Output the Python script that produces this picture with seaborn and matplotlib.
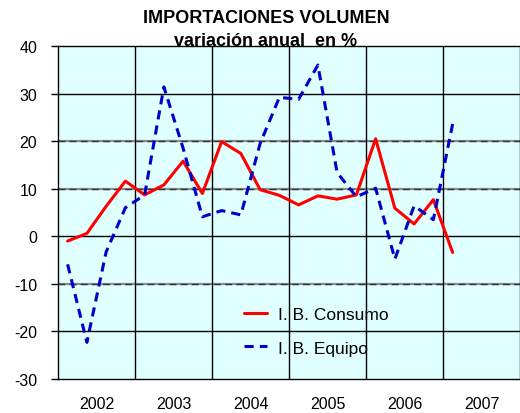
import numpy as np
import pandas as pd
import seaborn as sns
import matplotlib
matplotlib.use("Agg")
import matplotlib.pyplot as plt

# Quarterly data, 2002 Q1 .. 2007 Q1
years = ["2002", "2003", "2004", "2005", "2006", "2007"]
consumo = [-1.0, 0.6, 6.3, 11.6, 8.7, 10.8, 15.8, 9.0, 19.9, 17.4,
           9.8, 8.6, 6.6, 8.5, 7.8, 8.7, 20.5, 5.9, 2.6, 7.7, -3.4]
equipo = [-5.9, -22.3, -3.3, 6.0, 8.7, 31.4, 18.5, 4.1, 5.4, 4.5,
          19.5, 29.2, 28.8, 36.0, 13.4, 8.3, 10.1, -4.8, 6.4, 3.5, 23.6]

df = pd.DataFrame({
    "q": np.arange(len(consumo)),
    "I. B. Consumo": consumo,
    "I. B. Equipo": equipo,
})

sns.set_style("white")
plt.rcParams["font.family"] = ["Liberation Sans", "DejaVu Sans"]
plt.rcParams["axes.unicode_minus"] = False
plt.rcParams["text.color"] = "black"
plt.rcParams["xtick.color"] = "black"
plt.rcParams["ytick.color"] = "black"

fig = plt.figure(figsize=(5.2, 4.14), dpi=100)
ax = fig.add_axes([58 / 520, 1 - 380 / 414, 462 / 520, 333 / 414])
ax.set_facecolor("#E0FFFF")

sns.lineplot(data=df, x="q", y="I. B. Consumo", ax=ax, color="#FF0000",
             lw=2.2, label="I. B. Consumo", zorder=5)
sns.lineplot(data=df, x="q", y="I. B. Equipo", ax=ax, color="#0000CC",
             lw=2.2, label="I. B. Equipo", zorder=5)
ax.lines[1].set_dashes((3, 2))

nq = len(years) * 4
ax.set_xlim(-0.5, nq - 0.5)
ax.set_ylim(-30, 40)

# gridlines
for y in [30, 0, -20]:
    ax.axhline(y, color="black", lw=1.0, zorder=2)
for y in [20, 10, -10]:
    ax.axhline(y, color="#8c8c8c", lw=1.6, zorder=2)
    ax.axhline(y, color="#333333", lw=1.0, dashes=(5, 3), zorder=2)
for k in range(1, len(years)):
    ax.axvline(4 * k - 0.5, color="black", lw=1.0, zorder=2)

ax.set_xticks([4 * k + 1.5 for k in range(len(years))])
ax.set_xticklabels(years)
ax.set_yticks(range(-30, 41, 10))
ax.tick_params(axis="x", length=0, pad=12, labelsize=11.5)
ax.tick_params(axis="y", length=5, width=1, direction="out", pad=10,
               labelsize=11.5, left=True)
ax.set_xlabel("")
ax.set_ylabel("")
for s in ax.spines.values():
    s.set_color("black")
    s.set_linewidth(1.0)

leg = ax.legend(loc="upper left", bbox_to_anchor=((244 - 58) / 462, (380 - 308) / 333),
                frameon=False, fontsize=12.5, borderpad=0, borderaxespad=0,
                handlelength=1.3, handletextpad=0.65, labelspacing=1.05)
ax.get_legend().get_lines()[1].set_dashes((3, 2))

fig.text(266 / 520, 1 - 23 / 414, "IMPORTACIONES VOLUMEN", ha="center",
         va="baseline", fontsize=13, fontweight="bold")
fig.text(266 / 520, 1 - 45.5 / 414, "variación anual  en %", ha="center",
         va="baseline", fontsize=13, fontweight="bold", zorder=-1)

fig.savefig("out.png", dpi=100)
